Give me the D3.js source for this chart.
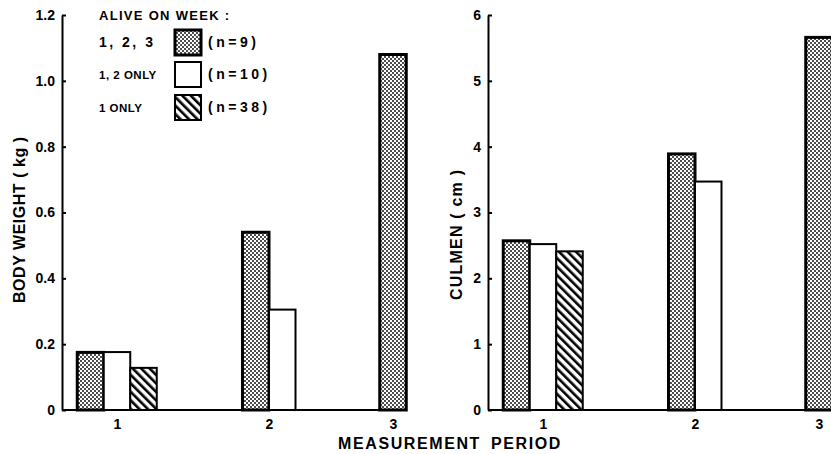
<!DOCTYPE html>
<html><head><meta charset="utf-8">
<script src="https://cdn.jsdelivr.net/npm/d3@7"></script>
<style>
body{margin:0;background:#fff;}
text{font-family:"Liberation Sans",Arial,sans-serif;font-weight:bold;fill:#000;}
</style></head>
<body><svg id="c" width="831" height="454"></svg>
<script>
// ---- data ----
const periods = [1, 2, 3];
const seriesNames = ["1, 2, 3", "1, 2 ONLY", "1 ONLY"];
const seriesN = ["(n=9)", "(n=10)", "(n=38)"];
const seriesFill = ["dots", "white", "hatch"];
const bodyWeight123 = [0.175, 0.54, 1.08];
const bodyWeight12 = [0.176, 0.305, null];
const bodyWeight1 = [0.128, null, null];
const culmen123 = [2.57, 3.89, 5.66];
const culmen12 = [2.52, 3.47, null];
const culmen1 = [2.41, null, null];
const weightTicks = [0, 0.2, 0.4, 0.6, 0.8, 1.0, 1.2];
const weightTickLabels = ["0", "0.2", "0.4", "0.6", "0.8", "1.0", "1.2"];
const culmenTicks = [0, 1, 2, 3, 4, 5, 6];
const culmenTickLabels = ["0", "1", "2", "3", "4", "5", "6"];

const svg = d3.select("#c");
const defs = svg.append("defs");
const pd = defs.append("pattern").attr("id","dots").attr("patternUnits","userSpaceOnUse")
  .attr("width",4).attr("height",4);
pd.append("rect").attr("width",4).attr("height",4).attr("fill","#fff");
pd.append("circle").attr("cx",1).attr("cy",1).attr("r",0.95).attr("fill","#000");
pd.append("circle").attr("cx",3).attr("cy",3).attr("r",0.95).attr("fill","#000");
const ph = defs.append("pattern").attr("id","hatch").attr("patternUnits","userSpaceOnUse")
  .attr("width",6).attr("height",6).attr("patternTransform","rotate(-45)");
ph.append("rect").attr("width",6).attr("height",6).attr("fill","#fff");
ph.append("rect").attr("x",0).attr("y",0).attr("width",2.6).attr("height",6).attr("fill","#000");

function fillOf(k){ return k==="white" ? "#fff" : "url(#"+k+")"; }

const yTop = 15, yBot = 410, barW = 26.5;

function panel(x0, xEnd, domainMax, ticks, tickLabels, s123, s12, s1, title, titleX, titleY, titleLen){
  const g = svg.append("g");
  const y = d3.scaleLinear().domain([0, domainMax]).range([yBot, yTop]);
  const x = d3.scaleLinear().domain(periods).range([x0+55, x0+207, x0+331]);
  const series = [s123, s12, s1];
  periods.forEach((p, pi) => {
    const present = series.map((s, si) => ({si, v: s[pi]})).filter(d => d.v != null);
    const left = x(p) - present.length*barW/2;
    present.forEach((d, k) => {
      g.append("rect")
        .attr("x", left + k*barW).attr("width", barW)
        .attr("y", y(d.v)).attr("height", y(0) - y(d.v))
        .attr("fill", fillOf(seriesFill[d.si]))
        .attr("stroke", "#000")
        .attr("stroke-width", d.si===0 ? 3 : 2);
    });
  });
  g.append("line").attr("x1", x0).attr("x2", xEnd).attr("y1", y(0)).attr("y2", y(0))
    .attr("stroke","#000").attr("stroke-width",2);
  const ya = d3.axisLeft(y).tickValues(ticks).tickFormat((d,i)=>tickLabels[i])
    .tickSizeInner(-4).tickSizeOuter(0).tickPadding(7);
  const yg = g.append("g").attr("transform","translate("+x0+",0)").call(ya);
  yg.select(".domain").attr("stroke-width",2);
  yg.selectAll(".tick line").attr("stroke-width",2);
  yg.selectAll("text").style("font-size","14px").attr("fill","#000");
  const xa = d3.axisBottom(x).tickValues(periods).tickFormat(d3.format("d")).tickSize(0).tickPadding(9);
  const xg = g.append("g").attr("transform","translate(0,"+yBot+")").call(xa);
  xg.select(".domain").remove();
  xg.selectAll("text").style("font-size","14px").attr("fill","#000");
  g.append("text").attr("transform","translate("+titleX+","+titleY+") rotate(-90)")
    .attr("text-anchor","middle").style("font-size","16px")
    .attr("textLength", titleLen).attr("lengthAdjust","spacing")
    .text(title);
}

panel(62, 407, 1.2, weightTicks, weightTickLabels, bodyWeight123, bodyWeight12, bodyWeight1,
      "BODY WEIGHT ( kg )", 25, 220, 166);
panel(488, 831, 6, culmenTicks, culmenTickLabels, culmen123, culmen12, culmen1,
      "CULMEN ( cm )", 462, 235, 130);

svg.append("text").attr("x",450).attr("y",449).attr("text-anchor","middle")
  .style("font-size","16px").style("letter-spacing","1.6px").style("word-spacing","4px")
  .text("MEASUREMENT PERIOD");

// legend
const lg = svg.append("g");
lg.append("text").attr("x",99).attr("y",20).style("font-size","13px").style("letter-spacing","1.3px")
  .text("ALIVE ON WEEK :");
const rowsY = [42, 74, 107];
seriesNames.forEach((n, i) => {
  lg.append("text").attr("x",99).attr("y",rowsY[i]+5).style("font-size", i===0?"14px":"11.5px")
    .style("letter-spacing", i===0?"2.5px":"0.5px").text(n);
  lg.append("rect").attr("x",175).attr("y",rowsY[i]-12).attr("width",26).attr("height",25)
    .attr("fill", fillOf(seriesFill[i])).attr("stroke","#000").attr("stroke-width", i===0?3:2);
  lg.append("text").attr("x",208).attr("y",rowsY[i]+5).style("font-size","14px")
    .style("letter-spacing","3.5px").text(seriesN[i]);
});
</script></body></html>
